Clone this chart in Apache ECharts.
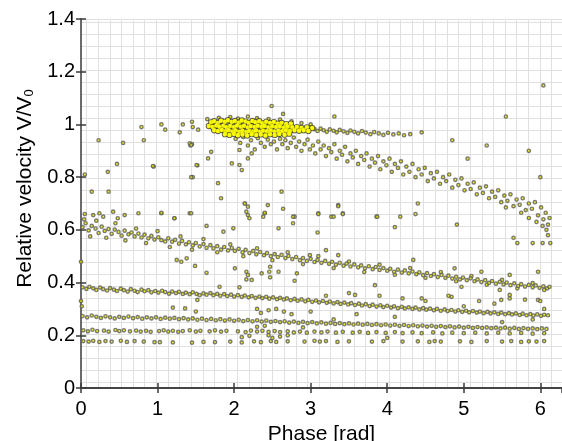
<!DOCTYPE html>
<html><head><meta charset="utf-8">
<script src="https://cdn.jsdelivr.net/npm/echarts@6/dist/echarts.min.js"></script>
<style>html,body{margin:0;padding:0;background:#fff}#c{width:562px;height:441px}</style>
</head><body><div id="c"></div>
<script>
// ---------- data (phase [rad], relative velocity) ----------
var xTicks = [0, 1, 2, 3, 4, 5, 6];
var yTicks = [0, 0.2, 0.4, 0.6, 0.8, 1, 1.2, 1.4];
var xTitle = 'Phase [rad]';
var yTitle = 'Relative velocity V/V{sub|0}';

// dense core near V/V0 = 1
var topBlob = [
[1.70,1.008],[1.74,1.012],[1.79,1.006],[1.83,1.014],[1.88,1.010],[1.92,1.016],[1.97,1.009],[2.01,1.013],[2.06,1.007],[2.10,1.015],[2.15,1.011],[2.19,1.006],[2.24,1.013],[2.28,1.008],[2.33,1.012],[2.37,1.004],[2.42,1.010],[2.47,1.006],[2.52,1.009],[2.57,1.003],[2.62,1.006],[2.68,1.001],[2.74,1.003],
[1.67,0.994],[1.72,0.990],[1.77,0.996],[1.81,0.991],[1.86,0.995],[1.90,0.989],[1.95,0.994],[2.00,0.990],[2.04,0.996],[2.09,0.991],[2.13,0.995],[2.18,0.989],[2.22,0.993],[2.27,0.990],[2.31,0.995],[2.36,0.991],[2.40,0.994],[2.45,0.989],[2.50,0.993],[2.55,0.990],[2.60,0.992],[2.65,0.988],[2.70,0.991],[2.76,0.989],[2.82,0.990],[2.88,0.987],[2.95,0.989],[3.02,0.986],
[1.74,0.978],[1.79,0.975],[1.84,0.979],[1.89,0.974],[1.93,0.978],[1.98,0.973],[2.02,0.977],[2.07,0.972],[2.11,0.976],[2.16,0.971],[2.20,0.975],[2.25,0.973],[2.29,0.977],[2.34,0.972],[2.38,0.976],[2.43,0.974],[2.48,0.977],[2.53,0.973],[2.58,0.976],[2.63,0.974],[2.68,0.977],[2.73,0.975],[2.79,0.978],[2.85,0.976],[2.91,0.978],[2.97,0.975],
[1.88,0.963],[1.94,0.960],[2.00,0.964],[2.05,0.959],[2.11,0.962],[2.17,0.958],[2.23,0.963],[2.29,0.960],[2.35,0.962],[2.41,0.958],[2.47,0.963],[2.53,0.960],[2.59,0.964],[2.66,0.961],[2.72,0.965]
];

// fringe and tail of the top group
var topTail = [
[1.65,1.020],[1.80,1.025],[1.95,1.028],[2.05,1.022],[2.18,1.030],[2.30,1.024],[2.45,1.020],[2.60,1.018],[2.75,1.012],[2.88,1.005],[3.00,1.000],
[2.49,1.070],[2.64,1.040],[3.31,1.030],
[3.05,0.982],[3.09,0.975],[3.13,0.984],[3.17,0.978],[3.21,0.972],[3.25,0.981],[3.30,0.976],[3.34,0.970],[3.38,0.979],[3.43,0.974],[3.48,0.968],[3.52,0.977],[3.57,0.972],[3.62,0.966],[3.67,0.975],[3.72,0.969],[3.78,0.963],[3.83,0.971],[3.89,0.966],[3.95,0.960],[4.01,0.968],[4.08,0.962],[4.15,0.966],[4.22,0.959],[4.30,0.963],
[1.05,1.000],[1.10,0.980],[1.33,1.000],[1.45,1.010],[1.46,0.990],[1.29,0.970],[1.53,0.980],[0.79,0.990],[1.42,0.928],[1.44,0.922]
];

// diffuse branch falling from ~0.95 to ~0.6
var fallingBand = [
[2.02,0.945],[2.08,0.930],[2.12,0.952],[2.18,0.920],[2.22,0.940],[2.27,0.905],[2.31,0.948],[2.35,0.930],[2.40,0.915],[2.44,0.942],[2.48,0.925],[2.52,0.935],[2.56,0.905],[2.60,0.945],[2.63,0.925],[2.67,0.940],[2.70,0.910],[2.74,0.930],[2.78,0.950],[2.81,0.915],[2.85,0.935],[2.88,0.900],[2.92,0.925],[2.96,0.942],[2.99,0.905],
[3.03,0.920],[3.06,0.890],[3.10,0.935],[3.13,0.905],[3.17,0.920],[3.20,0.880],[3.24,0.910],[3.27,0.895],[3.31,0.925],[3.34,0.870],[3.38,0.900],[3.41,0.885],[3.45,0.915],[3.48,0.860],[3.52,0.890],[3.55,0.875],[3.59,0.900],[3.62,0.850],[3.66,0.880],[3.70,0.865],[3.73,0.890],[3.77,0.840],[3.80,0.870],[3.84,0.855],[3.88,0.880],[3.91,0.830],[3.95,0.860],[3.99,0.845],
[4.03,0.870],[4.06,0.820],[4.10,0.850],[4.14,0.835],[4.18,0.860],[4.21,0.810],[4.25,0.840],[4.29,0.820],[4.33,0.850],[4.37,0.800],[4.41,0.830],[4.45,0.810],[4.49,0.835],[4.53,0.785],[4.57,0.815],[4.61,0.795],[4.65,0.820],[4.69,0.775],[4.73,0.800],[4.77,0.785],[4.81,0.810],[4.85,0.760],[4.89,0.790],[4.93,0.770],[4.97,0.795],
[5.01,0.750],[5.05,0.775],[5.09,0.755],[5.13,0.780],[5.17,0.735],[5.21,0.760],[5.25,0.740],[5.29,0.765],[5.33,0.720],[5.37,0.745],[5.41,0.725],[5.45,0.750],[5.49,0.705],[5.53,0.730],[5.57,0.710],[5.61,0.735],[5.65,0.690],[5.69,0.715],[5.73,0.695],[5.77,0.720],[5.81,0.675],[5.85,0.700],[5.89,0.680],[5.93,0.705],[5.97,0.655],
[6.01,0.685],[6.04,0.640],[6.07,0.665],[6.10,0.620],[6.12,0.645],[6.08,0.600],[6.03,0.615],[5.95,0.630],[5.75,0.665],[5.55,0.685],[5.85,0.645],[6.10,0.580],
[5.65,0.570],[5.70,0.550],[5.90,0.550],[6.03,0.550],[6.13,0.550],
[2.10,0.827],[2.07,0.846],[1.79,0.777],[1.83,0.720],[2.62,0.745],[1.44,0.800],[1.51,0.846],[1.66,0.871],[1.70,0.896],[1.97,0.852],[2.07,0.903],[2.18,0.871],[2.23,0.890],[0.94,0.842]
];

// scattered points in the upper half
var upperScatter = [
[0.23,0.940],[0.55,0.930],[0.82,0.940],[0.47,0.850],[0.35,0.820],[0.95,0.840],[0.05,0.810],[0.14,0.745],[0.36,0.745],[1.46,0.800],[1.52,0.845],[1.43,0.920],[1.45,0.925],
[6.04,1.148],[4.85,0.940],[5.30,0.920],[5.55,1.030],[5.85,0.900],[4.45,0.970],[5.05,0.870],[6.00,0.800],
[2.14,0.700],[2.18,0.688],[2.16,0.669],[2.40,0.663],[2.44,0.694],[2.64,0.680],[2.79,0.650],[3.10,0.663],[3.27,0.650],[3.36,0.694],[3.42,0.663],[3.86,0.650],[1.05,0.663],[1.22,0.644],[1.42,0.663],
[4.91,0.620],[3.87,0.650],[4.10,0.610],[4.17,0.650],[4.37,0.660],[4.40,0.700],[3.10,0.660],[3.30,0.650],[3.42,0.660],[3.09,0.590],[3.36,0.690],
[0.05,0.660],[0.16,0.656],[0.24,0.663],[0.29,0.650],[0.42,0.669],[0.48,0.644],[0.57,0.656],[0.75,0.663],[1.05,0.665],[1.22,0.644],[1.44,0.663],[1.64,0.615],[1.86,0.593],[1.99,0.606],[2.14,0.700],[2.18,0.656],[2.20,0.644],[2.38,0.650],[2.40,0.665],[2.58,0.606],[2.77,0.650],[2.77,0.625]
];

// band starting at 0.61
var band2 = [
[0.02,0.610],[0.06,0.625],[0.10,0.598],[0.14,0.615],[0.19,0.605],[0.23,0.588],[0.27,0.612],[0.31,0.596],[0.36,0.603],[0.40,0.585],[0.44,0.601],[0.49,0.592],[0.53,0.578],[0.57,0.597],[0.62,0.583],[0.66,0.590],[0.70,0.575],[0.75,0.586],[0.79,0.571],[0.83,0.582],[0.88,0.568],[0.92,0.577],[0.96,0.563],
[1.01,0.572],[1.05,0.561],[1.10,0.556],[1.14,0.568],[1.19,0.555],[1.23,0.562],[1.28,0.548],[1.32,0.558],[1.37,0.545],[1.41,0.553],[1.46,0.541],[1.50,0.550],[1.55,0.537],[1.60,0.546],[1.64,0.532],[1.69,0.542],[1.73,0.530],[1.78,0.538],[1.83,0.525],[1.87,0.535],[1.92,0.522],[1.97,0.531],
[2.01,0.520],[2.06,0.528],[2.11,0.515],[2.15,0.524],[2.20,0.512],[2.25,0.520],[2.29,0.507],[2.34,0.516],[2.39,0.504],[2.43,0.512],[2.48,0.500],[2.53,0.508],[2.57,0.497],[2.62,0.505],[2.67,0.493],[2.71,0.501],[2.76,0.489],[2.81,0.497],[2.86,0.485],[2.90,0.493],[2.95,0.482],
[3.00,0.490],[3.05,0.478],[3.09,0.486],[3.14,0.475],[3.19,0.482],[3.24,0.471],[3.28,0.479],[3.33,0.468],[3.38,0.475],[3.43,0.464],[3.47,0.472],[3.52,0.461],[3.57,0.469],[3.62,0.458],[3.66,0.465],[3.71,0.454],[3.76,0.462],[3.81,0.451],[3.85,0.459],[3.90,0.448],[3.95,0.455],
[4.00,0.445],[4.04,0.452],[4.09,0.441],[4.14,0.449],[4.19,0.438],[4.23,0.446],[4.28,0.435],[4.33,0.442],[4.38,0.432],[4.42,0.439],[4.47,0.428],[4.52,0.436],[4.57,0.425],[4.61,0.432],[4.66,0.421],[4.71,0.429],[4.76,0.418],[4.80,0.426],[4.85,0.415],[4.90,0.422],[4.95,0.412],[4.99,0.419],
[5.04,0.409],[5.09,0.416],[5.14,0.405],[5.18,0.412],[5.23,0.402],[5.28,0.409],[5.33,0.399],[5.37,0.406],[5.42,0.396],[5.47,0.403],[5.52,0.393],[5.56,0.400],[5.61,0.390],[5.66,0.397],[5.71,0.387],[5.75,0.394],[5.80,0.385],[5.85,0.391],[5.90,0.382],[5.94,0.389],[5.99,0.380],[6.04,0.386],[6.09,0.378],[6.12,0.384]
];
var band2Spread = [
[0.04,0.640],[0.12,0.575],[0.20,0.635],[0.33,0.570],[0.45,0.625],[0.58,0.560],[0.72,0.605],[0.85,0.550],[1.00,0.595],[1.16,0.535],[1.30,0.575],[1.45,0.525],[1.60,0.565],[1.78,0.515],[1.95,0.545],[2.12,0.500],[2.30,0.530],[2.50,0.485],[2.70,0.515],[2.90,0.470],[3.10,0.500],[3.30,0.455],[3.50,0.480],[3.70,0.440],[3.90,0.468],[4.10,0.430],[4.30,0.455],[4.50,0.418],[4.70,0.440],[4.90,0.405],[5.10,0.425],[5.30,0.392],[5.50,0.410],[5.70,0.378],[5.90,0.398],[6.05,0.372]
];

// points between the bands
var midScatter = [
[0.00,0.479],[1.25,0.486],[1.31,0.479],[1.38,0.492],[1.49,0.463],[1.64,0.437],[2.01,0.454],[2.16,0.441],[2.18,0.429],[2.16,0.412],[2.23,0.410],[2.36,0.435],[2.47,0.460],[2.46,0.441],[2.47,0.420],[2.58,0.441],[2.82,0.435],[2.79,0.407],[2.07,0.382],[1.81,0.384],[1.36,0.302],[1.52,0.334],
[4.88,0.454],[4.97,0.384],[5.23,0.441],[5.60,0.429],[5.97,0.441],[5.47,0.372],[5.49,0.334],[5.60,0.353],[5.97,0.334],[4.45,0.340],[3.84,0.390],[4.34,0.486],[3.58,0.353],[3.20,0.523],[3.36,0.504],[2.99,0.504],[4.84,0.346],
[2.30,0.300],[2.35,0.285],[2.45,0.200],[2.50,0.190],[2.60,0.195],[2.45,0.295],[2.65,0.290],[2.55,0.300],[2.75,0.280],[2.30,0.232],[2.40,0.236],[2.20,0.198],[2.10,0.193],[2.70,0.200],[1.20,0.305],[1.50,0.290],[0.00,0.330],[0.01,0.310],[4.00,0.190],[4.80,0.350],[5.20,0.330],[5.60,0.340],[5.80,0.335],[3.90,0.350],[3.20,0.350],[3.50,0.360],[4.50,0.330],[4.20,0.340],[5.00,0.310],[5.40,0.320],[6.05,0.300],[6.00,0.330],[5.90,0.260],[5.50,0.250],[3.60,0.280],[4.10,0.270],[3.00,0.290],[3.30,0.260],[2.90,0.230]
];

// band starting at 0.38
var band3 = [
[0.02,0.382],[0.07,0.376],[0.11,0.384],[0.16,0.378],[0.20,0.372],[0.25,0.381],[0.29,0.375],[0.34,0.370],[0.38,0.379],[0.43,0.373],[0.47,0.368],[0.52,0.377],[0.56,0.371],[0.61,0.366],[0.65,0.375],[0.70,0.369],[0.74,0.364],[0.79,0.373],[0.83,0.367],[0.88,0.371],[0.92,0.363],[0.97,0.368],
[1.01,0.362],[1.06,0.369],[1.10,0.364],[1.15,0.358],[1.19,0.366],[1.24,0.360],[1.28,0.365],[1.33,0.357],[1.37,0.362],[1.42,0.356],[1.46,0.363],[1.51,0.357],[1.55,0.352],[1.60,0.359],[1.64,0.354],[1.69,0.360],[1.73,0.352],[1.78,0.357],[1.82,0.350],[1.87,0.356],[1.91,0.349],[1.96,0.354],
[2.00,0.347],[2.05,0.352],[2.10,0.346],[2.14,0.351],[2.19,0.344],[2.23,0.349],[2.28,0.342],[2.33,0.347],[2.37,0.341],[2.42,0.346],[2.46,0.339],[2.51,0.344],[2.56,0.337],[2.60,0.342],[2.65,0.336],[2.69,0.340],[2.74,0.333],[2.79,0.338],[2.83,0.331],[2.88,0.336],[2.93,0.329],[2.97,0.334],
[3.02,0.327],[3.07,0.332],[3.11,0.325],[3.16,0.330],[3.21,0.323],[3.25,0.328],[3.30,0.321],[3.35,0.326],[3.39,0.319],[3.44,0.324],[3.49,0.317],[3.53,0.322],[3.58,0.315],[3.63,0.320],[3.67,0.313],[3.72,0.318],[3.77,0.311],[3.81,0.316],[3.86,0.309],[3.91,0.314],[3.95,0.307],
[4.00,0.312],[4.05,0.305],[4.09,0.310],[4.14,0.303],[4.19,0.308],[4.23,0.302],[4.28,0.306],[4.33,0.300],[4.37,0.305],[4.42,0.298],[4.47,0.303],[4.51,0.297],[4.56,0.301],[4.61,0.295],[4.65,0.300],[4.70,0.293],[4.75,0.298],[4.79,0.292],[4.84,0.296],[4.89,0.290],[4.93,0.295],[4.98,0.289],
[5.03,0.293],[5.07,0.287],[5.12,0.292],[5.17,0.286],[5.21,0.290],[5.26,0.284],[5.31,0.289],[5.35,0.283],[5.40,0.287],[5.45,0.281],[5.49,0.286],[5.54,0.280],[5.59,0.284],[5.63,0.279],[5.68,0.283],[5.73,0.277],[5.77,0.282],[5.82,0.276],[5.87,0.280],[5.91,0.275],[5.96,0.279],[6.01,0.274],[6.05,0.278],[6.10,0.276]
];

// band starting at 0.27
var band4 = [
[0.02,0.273],[0.08,0.268],[0.14,0.275],[0.20,0.270],[0.26,0.266],[0.32,0.272],[0.38,0.268],[0.44,0.264],[0.50,0.270],[0.56,0.266],[0.62,0.271],[0.68,0.265],[0.74,0.269],[0.80,0.263],[0.86,0.268],[0.92,0.264],[0.98,0.268],
[1.04,0.262],[1.10,0.267],[1.16,0.263],[1.22,0.266],[1.28,0.261],[1.34,0.265],[1.40,0.260],[1.46,0.264],[1.52,0.259],[1.58,0.263],[1.64,0.258],[1.70,0.262],[1.76,0.257],[1.82,0.261],[1.88,0.256],[1.94,0.260],
[2.00,0.255],[2.06,0.259],[2.12,0.254],[2.18,0.258],[2.24,0.253],[2.30,0.257],[2.36,0.252],[2.42,0.256],[2.48,0.251],[2.54,0.254],[2.60,0.250],[2.66,0.253],[2.72,0.248],[2.78,0.252],[2.84,0.247],[2.90,0.251],[2.96,0.246],
[3.02,0.250],[3.08,0.245],[3.14,0.249],[3.20,0.244],[3.26,0.247],[3.32,0.243],[3.38,0.246],[3.44,0.242],[3.50,0.245],[3.56,0.241],[3.62,0.244],[3.68,0.240],[3.74,0.243],[3.80,0.239],[3.86,0.242],[3.92,0.238],[3.98,0.241],
[4.04,0.237],[4.10,0.240],[4.16,0.236],[4.22,0.239],[4.28,0.235],[4.34,0.238],[4.40,0.234],[4.46,0.237],[4.52,0.233],[4.58,0.236],[4.64,0.232],[4.70,0.235],[4.76,0.231],[4.82,0.234],[4.88,0.230],[4.94,0.233],
[5.00,0.229],[5.06,0.232],[5.12,0.228],[5.18,0.231],[5.24,0.228],[5.30,0.230],[5.36,0.227],[5.42,0.229],[5.48,0.226],[5.54,0.229],[5.60,0.225],[5.66,0.228],[5.72,0.224],[5.78,0.227],[5.84,0.224],[5.90,0.226],[5.96,0.223],[6.02,0.226],[6.08,0.224]
];

// band near 0.215
var band5 = [
[0.03,0.219],[0.09,0.215],[0.15,0.221],[0.21,0.216],[0.30,0.218],[0.36,0.214],[0.45,0.220],[0.50,0.216],[0.56,0.219],[0.64,0.215],[0.72,0.218],[0.78,0.214],[0.85,0.217],[0.91,0.213],
[1.02,0.216],[1.08,0.219],[1.14,0.214],[1.20,0.217],[1.27,0.213],[1.33,0.216],[1.42,0.219],[1.50,0.214],[1.56,0.217],[1.68,0.215],[1.75,0.219],[1.83,0.214],[1.90,0.217],
[2.05,0.215],[2.15,0.212],[2.22,0.218],[2.30,0.214],[2.37,0.217],[2.45,0.213],[2.53,0.216],[2.60,0.212],[2.70,0.215],[2.78,0.211],[2.86,0.214],[2.95,0.210],
[3.05,0.214],[3.14,0.211],[3.22,0.214],[3.33,0.210],[3.42,0.213],[3.55,0.210],[3.64,0.213],[3.75,0.209],[3.86,0.212],[3.98,0.209],
[4.10,0.212],[4.20,0.208],[4.33,0.211],[4.45,0.208],[4.60,0.211],[4.72,0.207],[4.85,0.210],[5.00,0.208],[5.15,0.210],[5.30,0.207],[5.45,0.210],[5.60,0.207],[5.75,0.209],[5.90,0.206],[6.05,0.208]
];

// lowest band near 0.177
var band6 = [
[0.03,0.178],[0.10,0.176],[0.16,0.179],[0.24,0.175],[0.32,0.178],[0.40,0.176],[0.52,0.179],[0.60,0.175],[0.70,0.178],[0.82,0.176],[0.96,0.174],[1.03,0.174],[1.20,0.173],[1.45,0.172],[1.60,0.175],[1.75,0.174],[1.95,0.176],
[2.10,0.173],[2.26,0.177],[2.35,0.174],[2.48,0.178],[2.55,0.175],[2.70,0.177],[2.92,0.176],[3.05,0.179],[3.12,0.176],[3.20,0.178],[3.35,0.175],[3.50,0.177],[3.80,0.176],[3.95,0.178],
[4.20,0.176],[4.40,0.177],[4.55,0.175],[4.62,0.178],[4.70,0.176],[4.95,0.177],[5.10,0.175],[5.30,0.178],[5.50,0.176],[5.62,0.178],[5.75,0.175],[5.85,0.177],[5.95,0.176],[6.05,0.178]
];

// ---------- chart ----------
var FONT = '"Liberation Sans", Arial, sans-serif';
var chart = echarts.init(document.getElementById('c'), null, {renderer: 'canvas'});
var dotStyle = {color: '#e6e600', borderColor: '#5c5c5c', borderWidth: 1.4};
function dots(data) {
  return {type: 'scatter', xAxisIndex: 0, yAxisIndex: 0, data: data, symbol: 'circle', symbolSize: 3.3,
          itemStyle: dotStyle, silent: true, z: 3};
}
var xMax = 2 * Math.PI;
var PL = 81, PT = 19, PB = 53;   // plot box
var gridColor = '#e0e0e0';

chart.setOption({
  animation: false,
  backgroundColor: '#ffffff',
  grid: [
    {left: PL, right: 0, top: PT, bottom: PB, containLabel: false, outerBoundsMode: 'none'},
    {left: PL - 6, right: 0, top: PT, bottom: PB, containLabel: false, outerBoundsMode: 'none'},
    {left: PL, right: 0, top: PT, bottom: PB - 6, containLabel: false, outerBoundsMode: 'none'}
  ],
  xAxis: [
    {type: 'value', gridIndex: 0, min: 0, max: xMax, interval: 1, position: 'bottom',
     name: xTitle, nameLocation: 'middle', nameGap: 24,
     nameTextStyle: {fontFamily: FONT, fontSize: 21, color: '#000'},
     axisLine: {show: true, lineStyle: {color: '#3a3a3a', width: 1.5}},
     axisTick: {show: true, inside: true, length: 5, lineStyle: {color: '#3a3a3a', width: 1.5}},
     axisLabel: {show: true, fontFamily: FONT, fontSize: 20, color: '#000', margin: 11, showMaxLabel: false,
                 formatter: function (v) { return xTicks.indexOf(v) >= 0 ? String(v) : ''; }},
     splitLine: {show: false}},
    {type: 'value', gridIndex: 0, min: 0, max: xMax, interval: 1, position: 'top',
     axisLine: {show: true, lineStyle: {color: '#3a3a3a', width: 1.5}},
     axisTick: {show: true, inside: true, length: 5, lineStyle: {color: '#3a3a3a', width: 1.5}},
     axisLabel: {show: false}, splitLine: {show: false}},
    {type: 'value', gridIndex: 1, min: 0, max: 486 / 11.6, interval: 1,
     axisLine: {show: false}, axisTick: {show: false}, axisLabel: {show: false},
     splitLine: {show: true, showMinLine: false, lineStyle: {color: gridColor, width: 1}}},
    {type: 'value', gridIndex: 2, min: 0, max: 1, show: false, splitLine: {show: false}}
  ],
  yAxis: [
    {type: 'value', gridIndex: 0, min: 0, max: 1.4, interval: 0.2, position: 'left',
     name: yTitle, nameLocation: 'middle', nameGap: 37, nameRotate: 90,
     nameTextStyle: {fontFamily: FONT, fontSize: 21, color: '#000', padding: [0, 0, 0, 30],
                     rich: {sub: {fontFamily: FONT, fontSize: 13, color: '#000', padding: [10, 0, 0, 0]}}},
     axisLine: {show: true, lineStyle: {color: '#3a3a3a', width: 1.5}},
     axisTick: {show: true, inside: true, length: 5, lineStyle: {color: '#3a3a3a', width: 1.5}},
     axisLabel: {show: true, fontFamily: FONT, fontSize: 20, color: '#000', margin: 6,
                 formatter: function (v) { return yTicks.indexOf(Math.round(v * 10) / 10) >= 0 ? String(Math.round(v * 10) / 10) : ''; }},
     splitLine: {show: false}},
    {type: 'value', gridIndex: 0, min: 0, max: 1.4, interval: 0.2, position: 'right',
     axisLine: {show: false},
     axisTick: {show: true, inside: true, length: 5, lineStyle: {color: '#3a3a3a', width: 1.5}},
     axisLabel: {show: false}, splitLine: {show: false}},
    {type: 'value', gridIndex: 1, min: 0, max: 1, show: false, splitLine: {show: false}},
    {type: 'value', gridIndex: 2, min: 0, max: (441 - PT - (PB - 6)) / 12, interval: 1,
     axisLine: {show: false}, axisTick: {show: false}, axisLabel: {show: false},
     splitLine: {show: true, showMinLine: false, lineStyle: {color: gridColor, width: 1}}}
  ],
  series: [
    {type: 'scatter', xAxisIndex: 2, yAxisIndex: 2, data: [], silent: true},
    {type: 'scatter', xAxisIndex: 3, yAxisIndex: 3, data: [], silent: true},
    dots(band6), dots(band5), dots(band4), dots(band3), dots(midScatter),
    dots(band2Spread), dots(band2), dots(upperScatter), dots(fallingBand), dots(topTail),
    {type: 'scatter', xAxisIndex: 0, yAxisIndex: 0, data: topBlob, symbol: 'circle', symbolSize: 5.2,
     itemStyle: {color: '#ffff00', borderColor: '#3a3a3a', borderWidth: 1.1}, silent: true, z: 4},
    {type: 'scatter', xAxisIndex: 0, yAxisIndex: 0, data: topBlob, symbol: 'circle', symbolSize: 4.4,
     itemStyle: {color: '#ffff00', borderWidth: 0}, silent: true, z: 5}
  ]
});
</script></body></html>
